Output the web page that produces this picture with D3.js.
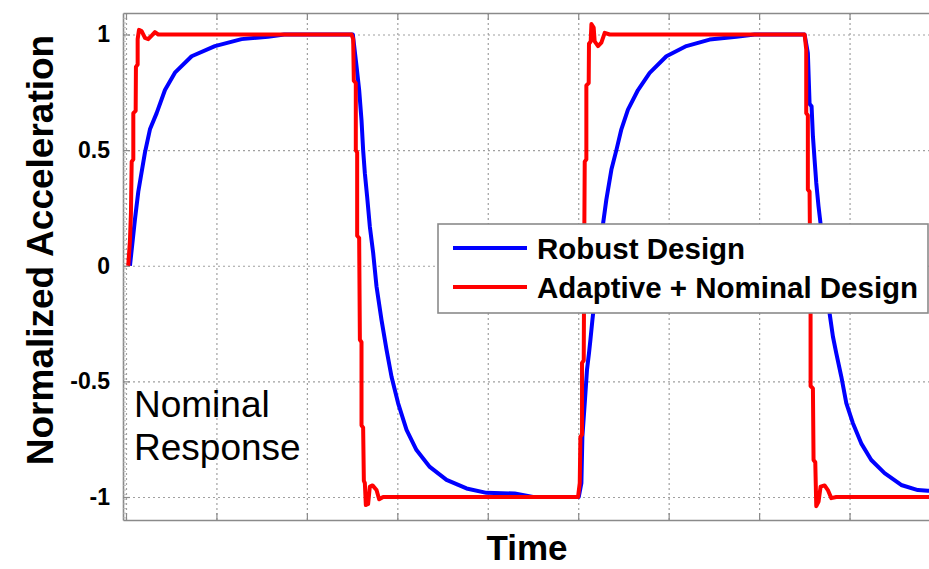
<!DOCTYPE html>
<html>
<head>
<meta charset="utf-8">
<script src="https://cdn.jsdelivr.net/npm/d3@7"></script>
<style>
  html, body { margin: 0; padding: 0; background: #fff; }
  svg { display: block; }
  text { font-family: "Liberation Sans", Arial, sans-serif; }
</style>
</head>
<body>
<svg id="chart" width="929" height="569"></svg>
<script>
// ---------------- data ----------------
const xTickValues = [0, 1, 2, 3, 4, 5, 6, 7, 8, 9];
const yTickValues = [1, 0.5, 0, -0.5, -1];
const yTickLabels = ["1", "0.5", "0", "-0.5", "-1"];
const seriesNames = ["Robust Design", "Adaptive + Nominal Design"];
const seriesColors = ["#0000ff", "#ff0000"];

const robustTime = [0.044, 0.099, 0.136, 0.210, 0.265, 0.339, 0.431, 0.541, 0.726, 0.983, 1.278, 1.569, 1.750, 2.508,
  2.549, 2.578, 2.604, 2.622, 2.641, 2.666, 2.696, 2.733, 2.770, 2.825, 2.881, 2.936, 3.009, 3.102, 3.212, 3.359, 3.544, 3.765, 3.986, 4.298, 4.500, 5.006,
  5.035, 5.046, 5.072, 5.097, 5.119, 5.135, 5.157, 5.215, 5.274, 5.311, 5.367, 5.422, 5.477, 5.550, 5.661, 5.790, 5.975, 6.196, 6.453, 6.748, 6.950, 7.503,
  7.539, 7.558, 7.580, 7.595, 7.613, 7.632, 7.657, 7.680, 7.730, 7.779, 7.816, 7.853, 7.909, 7.964, 8.036, 8.129, 8.240, 8.387, 8.571, 8.755, 8.865, 8.994];
const robust = [0, 0.2, 0.32, 0.49, 0.59, 0.66, 0.76, 0.835, 0.906, 0.95, 0.98, 0.99, 1.0, 1.0,
  0.863, 0.76, 0.63, 0.50, 0.40, 0.30, 0.17, 0.055, -0.09, -0.234, -0.364, -0.48, -0.595, -0.71, -0.797, -0.87, -0.926, -0.963, -0.982, -0.985, -1.0, -1.0,
  -0.94, -0.74, -0.595, -0.45, -0.378, -0.32, -0.234, -0.03, 0.18, 0.286, 0.416, 0.50, 0.59, 0.675, 0.76, 0.834, 0.906, 0.95, 0.978, 0.99, 1.0, 1.0,
  0.92, 0.70, 0.69, 0.56, 0.46, 0.358, 0.257, 0.18, -0.01, -0.205, -0.306, -0.378, -0.48, -0.594, -0.68, -0.768, -0.84, -0.897, -0.948, -0.97, -0.973, -0.976];

const adaptiveTime = [0.025, 0.044, 0.055, 0.063, 0.081, 0.081, 0.107, 0.110, 0.129, 0.129, 0.144, 0.173, 0.210, 0.246, 0.284, 0.320, 0.357, 2.494,
  2.512, 2.519, 2.541, 2.541, 2.556, 2.556, 2.578, 2.586, 2.604, 2.604, 2.622, 2.630, 2.641, 2.652, 2.677, 2.696, 2.726, 2.770, 2.799, 2.843, 4.998,
  5.017, 5.024, 5.042, 5.042, 5.061, 5.068, 5.072, 5.090, 5.090, 5.116, 5.119, 5.138, 5.146, 5.171, 5.182, 5.219, 5.256, 5.293, 5.348, 7.503,
  7.521, 7.521, 7.539, 7.539, 7.558, 7.569, 7.569, 7.595, 7.602, 7.621, 7.632, 7.657, 7.680, 7.724, 7.760, 7.798, 7.853, 9.0];
const adaptive = [0, 0.11, 0.23, 0.45, 0.46, 0.66, 0.67, 0.86, 0.87, 0.98, 1.02, 1.015, 0.985, 0.98, 0.995, 1.01, 1.0, 1.0,
  0.98, 0.8, 0.79, 0.5, 0.49, 0.13, 0.12, -0.32, -0.33, -0.69, -0.70, -0.93, -0.94, -1.035, -1.03, -0.955, -0.95, -0.97, -1.01, -1.0, -1.0,
  -0.94, -0.74, -0.73, -0.42, -0.41, 0.18, 0.45, 0.46, 0.78, 0.79, 0.96, 0.97, 1.045, 1.03, 0.97, 0.95, 0.965, 1.007, 1.0, 1.0,
  0.935, 0.66, 0.65, 0.33, 0.32, -0.2, -0.52, -0.53, -0.84, -0.85, -1.04, -1.02, -0.955, -0.95, -0.97, -1.005, -1.0, -1.0];

// ---------------- layout ----------------
const svg = d3.select("#chart");
const plotL = 123, plotR = 940, plotT = 13, plotB = 520;
const x = d3.scaleLinear().domain([-0.033, 9.0]).range([plotL, plotR]);
const y = d3.scaleLinear().domain([-1.0995, 1.093]).range([plotB, plotT]);
const gridColor = "#a0a0a0", axisColor = "#8a8a8a";

svg.append("defs").append("clipPath").attr("id", "plotClip")
  .append("rect").attr("x", plotL).attr("y", plotT).attr("width", plotR - plotL).attr("height", plotB - plotT);

// gridlines
const gx = svg.append("g").attr("transform", `translate(0,${plotB})`)
  .call(d3.axisBottom(x).tickValues(xTickValues).tickSize(-(plotB - plotT)).tickFormat(""));
gx.select(".domain").remove();
gx.selectAll("line").attr("stroke", gridColor).attr("stroke-width", 1.2).attr("stroke-dasharray", "2,3");

const gy = svg.append("g").attr("transform", `translate(${plotL},0)`)
  .call(d3.axisLeft(y).tickValues(yTickValues).tickSize(-(plotR - plotL)).tickFormat(""));
gy.select(".domain").remove();
gy.selectAll("line").attr("stroke", gridColor).attr("stroke-width", 1.2).attr("stroke-dasharray", "2,3");

// frame axes
const axB = svg.append("g").attr("transform", `translate(0,${plotB})`)
  .call(d3.axisBottom(x).tickValues(xTickValues).tickSize(-7).tickFormat("").tickSizeOuter(0));
const axT = svg.append("g").attr("transform", `translate(0,${plotT})`)
  .call(d3.axisTop(x).tickValues(xTickValues).tickSize(-7).tickFormat("").tickSizeOuter(0));
const axL = svg.append("g").attr("transform", `translate(${plotL},0)`)
  .call(d3.axisLeft(y).tickValues(yTickValues).tickSize(-7).tickPadding(13)
    .tickFormat((d, i) => yTickLabels[i]).tickSizeOuter(0));
[axB, axT, axL].forEach(g => {
  g.select(".domain").attr("stroke", axisColor).attr("stroke-width", 1.6);
  g.selectAll(".tick line").attr("stroke", axisColor).attr("stroke-width", 1.2);
});
axL.selectAll(".tick text")
  .attr("font-family", "'Liberation Sans', Arial, sans-serif")
  .attr("font-size", 23).attr("font-weight", "bold").attr("fill", "#000");

// minor ticks on left axis
const minor = d3.range(-1.09, 1.09, 0.02);
svg.append("g").selectAll("line").data(minor).join("line")
  .attr("x1", plotL).attr("x2", plotL + 3)
  .attr("y1", d => y(d)).attr("y2", d => y(d))
  .attr("stroke", "#b0b0b0").attr("stroke-width", 0.8);

// series
const line = d3.line().x(d => x(d[0])).y(d => y(d[1]));
const plot = svg.append("g").attr("clip-path", "url(#plotClip)");
plot.append("path")
  .datum(robustTime.map((t, i) => [t, robust[i]]))
  .attr("fill", "none").attr("stroke", seriesColors[0]).attr("stroke-width", 4)
  .attr("stroke-linejoin", "round").attr("d", line);
plot.append("path")
  .datum(adaptiveTime.map((t, i) => [t, adaptive[i]]))
  .attr("fill", "none").attr("stroke", seriesColors[1]).attr("stroke-width", 4)
  .attr("stroke-linejoin", "round").attr("d", line);

// legend
const lg = svg.append("g");
lg.append("rect").attr("x", 438).attr("y", 224).attr("width", 490).attr("height", 89)
  .attr("fill", "#fff").attr("stroke", axisColor).attr("stroke-width", 1.6);
const legendRowsY = [248, 287];
seriesNames.forEach((name, i) => {
  lg.append("line").attr("x1", 453).attr("x2", 527)
    .attr("y1", legendRowsY[i]).attr("y2", legendRowsY[i])
    .attr("stroke", seriesColors[i]).attr("stroke-width", 4);
  lg.append("text").attr("x", 537).attr("y", legendRowsY[i] + 11)
    .attr("font-size", 29.5).attr("font-weight", "bold").attr("fill", "#000").text(name);
});

// annotation
svg.append("text").attr("x", 134).attr("y", 417).attr("font-size", 37).attr("fill", "#000").text("Nominal");
svg.append("text").attr("x", 134).attr("y", 460).attr("font-size", 37).attr("fill", "#000").text("Response");

// axis titles
svg.append("text").attr("transform", "translate(53,250) rotate(-90)")
  .attr("text-anchor", "middle").attr("font-size", 37).attr("font-weight", "bold").attr("fill", "#000")
  .text("Normalized Acceleration");
svg.append("text").attr("x", 527).attr("y", 560)
  .attr("text-anchor", "middle").attr("font-size", 35).attr("font-weight", "bold").attr("fill", "#000")
  .text("Time");
</script>
</body>
</html>
